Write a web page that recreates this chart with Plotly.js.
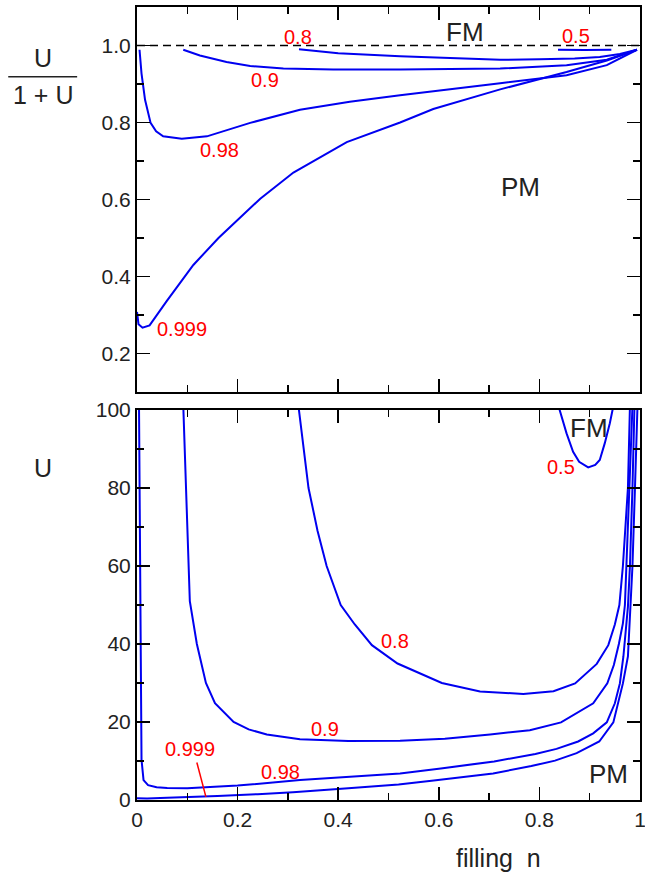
<!DOCTYPE html>
<html>
<head>
<meta charset="utf-8">
<script src="https://cdn.plot.ly/plotly-3.0.1.min.js"></script>
<style>
  html, body { margin: 0; padding: 0; background: #fff; }
  #chart { width: 645px; height: 876px; }
</style>
</head>
<body>
<div id="chart"></div>
<script>
// ---- lower panel: critical U versus filling n for each curve ----
const nU05 = [0.838, 0.854, 0.867, 0.879, 0.897, 0.911, 0.920, 0.930, 0.940, 0.947];
const uU05 = [101, 94, 89.3, 86.7, 85.3, 85.9, 87.2, 91.5, 96.6, 101];

const nU08 = [0.321, 0.341, 0.359, 0.377, 0.405, 0.433, 0.467, 0.518, 0.606, 0.682, 0.768, 0.828, 0.871, 0.914, 0.937, 0.950, 0.959, 0.966, 0.972, 0.976, 0.980];
const uU08 = [101, 80, 69, 60, 50, 45, 39.7, 35, 30, 27.8, 27.2, 27.9, 29.9, 34.9, 39.7, 45, 50, 60, 72, 80, 101];

const nU09 = [0.092, 0.105, 0.119, 0.137, 0.155, 0.192, 0.222, 0.258, 0.324, 0.42, 0.523, 0.612, 0.702, 0.781, 0.843, 0.907, 0.935, 0.948, 0.958, 0.966, 0.970, 0.973, 0.980, 0.985];
const uU09 = [101, 51, 40, 30, 24.8, 20, 18.1, 16.8, 15.6, 15.1, 15.2, 15.7, 16.8, 17.9, 19.9, 24.8, 29.9, 34.6, 40, 45.3, 50, 60, 80, 101];

const nU098 = [0.004, 0.007, 0.009, 0.013, 0.022, 0.039, 0.06, 0.1, 0.2, 0.324, 0.42, 0.523, 0.604, 0.71, 0.792, 0.834, 0.877, 0.907, 0.934, 0.950, 0.960, 0.967, 0.976, 0.980, 0.985, 0.989];
const uU098 = [101, 50, 10.3, 5.1, 3.8, 3.25, 3.05, 3.0, 3.7, 5.1, 5.9, 6.8, 8.1, 9.9, 11.8, 13.1, 15, 17.1, 19.9, 24.8, 29.9, 36.8, 49.6, 60, 80, 101];

const nU0999 = [0.0, 0.012, 0.02, 0.06, 0.12, 0.16, 0.24, 0.31, 0.42, 0.52, 0.59, 0.708, 0.784, 0.831, 0.874, 0.919, 0.947, 0.957, 0.966, 0.976, 0.981, 0.985, 0.990, 0.995];
const uU0999 = [0.45, 0.36, 0.37, 0.55, 0.8, 1.0, 1.5, 2.0, 3.0, 4.0, 5.0, 6.8, 8.7, 10.1, 12, 15, 19.9, 24.8, 29.9, 36.8, 49.6, 60, 80, 101];

// ---- upper panel: U/(1+U) versus filling n ----
const nR05 = [0.837, 0.89, 0.943];
const rR05 = [0.989, 0.988, 0.989];

const nR08 = [0.322, 0.4, 0.523, 0.62, 0.722, 0.8, 0.87, 0.92, 0.96, 0.994];
const rR08 = [0.990, 0.980, 0.972, 0.967, 0.963, 0.964, 0.966, 0.970, 0.978, 0.989];

const nR09 = [0.092, 0.125, 0.178, 0.225, 0.291, 0.39, 0.523, 0.722, 0.854, 0.934, 0.994];
const rR09 = [0.989, 0.974, 0.957, 0.947, 0.940, 0.9375, 0.9375, 0.940, 0.949, 0.963, 0.989];

const nR098 = [0.005, 0.009, 0.016, 0.027, 0.038, 0.052, 0.089, 0.139, 0.225, 0.324, 0.423, 0.523, 0.722, 0.854, 0.934, 0.994];
const rR098 = [0.989, 0.927, 0.859, 0.799, 0.777, 0.764, 0.758, 0.764, 0.799, 0.833, 0.854, 0.871, 0.902, 0.923, 0.949, 0.989];

const nR0999 = [0.0, 0.003, 0.011, 0.025, 0.059, 0.112, 0.162, 0.245, 0.311, 0.417, 0.523, 0.589, 0.722, 0.854, 0.934, 0.994];
const rR0999 = [0.308, 0.276, 0.267, 0.273, 0.336, 0.430, 0.5, 0.602, 0.670, 0.749, 0.80, 0.835, 0.886, 0.931, 0.961, 0.989];

// curve labels (polarization values) and phase labels
const curveLabels = ['0.5', '0.8', '0.9', '0.98', '0.999'];
const phaseLabels = ['FM', 'PM'];

// tick labels
const xTickVals = [0, 0.2, 0.4, 0.6, 0.8, 1];
const xTickText = ['0', '0.2', '0.4', '0.6', '0.8', '1'];
const yTopTickVals = [0.2, 0.4, 0.6, 0.8, 1.0];
const yTopTickText = ['0.2', '0.4', '0.6', '0.8', '1.0'];
const yBotTickVals = [0, 20, 40, 60, 80, 100];
const yBotTickText = ['0', '20', '40', '60', '80', '100'];

const FONT = '"Liberation Sans", Arial, Helvetica, sans-serif';
const BLUE = '#0000f0';
const RED = '#ff0000';

function curve(x, y, xa, ya) {
  return {
    x: x, y: y, xaxis: xa, yaxis: ya, type: 'scatter', mode: 'lines',
    line: { color: BLUE, width: 2 }, hoverinfo: 'skip', showlegend: false
  };
}

const traces = [
  curve(nR05, rR05, 'x', 'y'),
  curve(nR08, rR08, 'x', 'y'),
  curve(nR09, rR09, 'x', 'y'),
  curve(nR098, rR098, 'x', 'y'),
  curve(nR0999, rR0999, 'x', 'y'),
  curve(nU05, uU05, 'x2', 'y2'),
  curve(nU08, uU08, 'x2', 'y2'),
  curve(nU09, uU09, 'x2', 'y2'),
  curve(nU098, uU098, 'x2', 'y2'),
  curve(nU0999, uU0999, 'x2', 'y2')
];

function axisBase() {
  return {
    showline: true, linecolor: '#000', linewidth: 2, mirror: 'ticks',
    ticks: 'inside', ticklen: 13, tickwidth: 1.5, tickcolor: '#000',
    showgrid: false, zeroline: false, fixedrange: true,
    ticklabeloverflow: 'allow',
    tickfont: { family: FONT, size: 21, color: '#222' },
    minor: { ticks: 'inside', ticklen: 7, tickwidth: 1.5, tickcolor: '#000', showgrid: false }
  };
}

const xTop = Object.assign(axisBase(), {
  domain: [0, 1], range: [0, 1], anchor: 'y',
  tickmode: 'array', tickvals: xTickVals, ticktext: xTickText, showticklabels: false
});
xTop.minor.dtick = 0.1;
const xBot = Object.assign(axisBase(), {
  domain: [0, 1], range: [0, 1], anchor: 'y2',
  tickmode: 'array', tickvals: xTickVals, ticktext: xTickText
});
xBot.minor.dtick = 0.1;
const yTop = Object.assign(axisBase(), {
  domain: [0.5145, 1], range: [0.1, 1.1], anchor: 'x',
  tickmode: 'array', tickvals: yTopTickVals, ticktext: yTopTickText
});
yTop.minor.dtick = 0.1;
const yBot = Object.assign(axisBase(), {
  domain: [0, 0.4918], range: [0, 100], anchor: 'x2',
  tickmode: 'array', tickvals: yBotTickVals, ticktext: yBotTickText
});
yBot.minor.dtick = 10;

function note(text, x, y, xref, yref, color, size) {
  return {
    text: text, x: x, y: y, xref: xref, yref: yref, showarrow: false,
    xanchor: 'center', yanchor: 'middle',
    font: { family: FONT, size: size, color: color }
  };
}

const annotations = [
  // upper panel
  note(curveLabels[1], 0.32, 1.022, 'x', 'y', RED, 20),
  note(curveLabels[0], 0.872, 1.024, 'x', 'y', RED, 20),
  note(curveLabels[2], 0.255, 0.910, 'x', 'y', RED, 20),
  note(curveLabels[3], 0.164, 0.729, 'x', 'y', RED, 20),
  note(curveLabels[4], 0.09, 0.263, 'x', 'y', RED, 20),
  note(phaseLabels[0], 0.652, 1.035, 'x', 'y', '#222', 26),
  note(phaseLabels[1], 0.762, 0.632, 'x', 'y', '#222', 26),
  // lower panel
  note(curveLabels[0], 0.843, 85.3, 'x2', 'y2', RED, 20),
  note(curveLabels[1], 0.513, 40.8, 'x2', 'y2', RED, 20),
  note(curveLabels[2], 0.373, 18.1, 'x2', 'y2', RED, 20),
  note(curveLabels[3], 0.286, 7.3, 'x2', 'y2', RED, 20),
  note(curveLabels[4], 0.106, 13.0, 'x2', 'y2', RED, 20),
  note(phaseLabels[0], 0.898, 95.5, 'x2', 'y2', '#222', 26),
  note(phaseLabels[1], 0.937, 6.7, 'x2', 'y2', '#222', 26),
  // axis titles
  note('U', -0.187, 0.936, 'paper', 'paper', '#222', 25),
  note('1 + U', -0.187, 0.889, 'paper', 'paper', '#222', 25),
  note('U', -0.187, 0.419, 'paper', 'paper', '#222', 25),
  note('filling&nbsp;&nbsp;n', 0.718, -0.073, 'paper', 'paper', '#222', 25)
];

const shapes = [
  // U = infinity limit in the upper panel
  { type: 'line', xref: 'x', yref: 'y', x0: 0, x1: 1, y0: 1.0, y1: 1.0,
    line: { color: '#000', width: 1.5, dash: '8px,5px' } },
  // fraction bar of the upper y-axis title
  { type: 'line', xref: 'paper', yref: 'paper', x0: -0.256, x1: -0.119, y0: 0.912, y1: 0.912,
    line: { color: '#222', width: 1.5 } },
  // pointer from the 0.999 label to its curve
  { type: 'line', xref: 'x2', yref: 'y2', x0: 0.119, y0: 9.6, x1: 0.137, y1: 0.8,
    line: { color: RED, width: 1.5 } }
];

const layout = {
  width: 645, height: 876,
  margin: { l: 137, r: 5, t: 7, b: 76 },
  paper_bgcolor: '#fff', plot_bgcolor: '#fff',
  showlegend: false,
  xaxis: xTop, yaxis: yTop, xaxis2: xBot, yaxis2: yBot,
  annotations: annotations, shapes: shapes,
  font: { family: FONT }
};

Plotly.newPlot('chart', traces, layout, { displayModeBar: false, staticPlot: true });
</script>
</body>
</html>
